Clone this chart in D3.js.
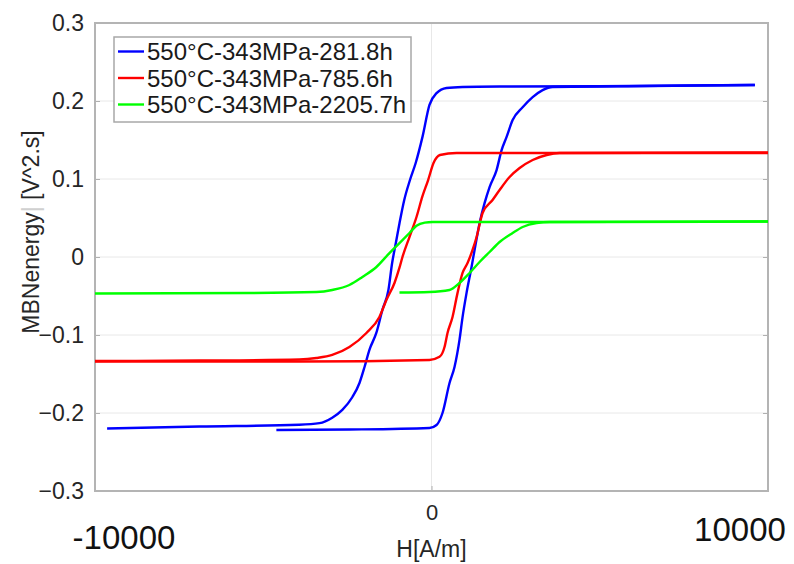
<!DOCTYPE html>
<html>
<head>
<meta charset="utf-8">
<script src="https://cdn.jsdelivr.net/npm/d3@7"></script>
<style>
  body { margin: 0; background: #fff; }
  svg { font-family: "Liberation Sans", Arial, sans-serif; }
</style>
</head>
<body>
<div id="chart"></div>
<script>
/***** Data *****/
var seriesNames = ["550°C-343MPa-281.8h", "550°C-343MPa-785.6h", "550°C-343MPa-2205.7h"];
var seriesColors = ["#0000ff", "#ff0000", "#00ff00"];
var yTicks = [-0.3, -0.2, -0.1, 0, 0.1, 0.2, 0.3];
var xTicks = [0];

// each branch: [H, energy], sorted by H
var blueUpper = [
  [-9640, -0.2199], [-6900, -0.2173], [-3930, -0.215], [-3330, -0.213], [-2950, -0.206],
  [-2650, -0.196], [-2350, -0.1795], [-2140, -0.1615], [-1990, -0.141], [-1845, -0.119],
  [-1640, -0.0974], [-1460, -0.068], [-1280, -0.0423], [-1170, -0.0077], [-1060, 0.0179],
  [-950, 0.0436], [-810, 0.0731], [-640, 0.0987], [-470, 0.1205], [-268, 0.154],
  [-60, 0.195], [150, 0.210], [446, 0.2167], [923, 0.218], [2024, 0.2186],
  [5000, 0.219], [9610, 0.2205]
];
var blueLower = [
  [-4610, -0.2218], [-2440, -0.2212], [-60, -0.2192], [150, -0.2154], [327, -0.200],
  [536, -0.1615], [684, -0.141], [833, -0.106], [923, -0.077], [1042, -0.046],
  [1190, -0.0128], [1280, 0.009], [1430, 0.0436], [1577, 0.069], [1726, 0.0897],
  [1934, 0.1115], [2083, 0.137], [2232, 0.154], [2411, 0.1756], [2708, 0.192],
  [3006, 0.205], [3303, 0.214], [3600, 0.218], [6490, 0.2192], [9610, 0.2205]
];
var redUpper = [
  [-10000, -0.1333], [-6900, -0.1327], [-3930, -0.1314], [-3420, -0.1295], [-2950, -0.1256],
  [-2440, -0.1154], [-1934, -0.0974], [-1548, -0.0769], [-1340, -0.0551], [-1100, -0.0333],
  [-952, -0.0137], [-863, 0.0], [-655, 0.0256], [-446, 0.0513], [-268, 0.078],
  [-100, 0.0987], [60, 0.1205], [250, 0.1308], [744, 0.1333], [5000, 0.1333],
  [10000, 0.1333]
];
var redLower = [
  [-10000, -0.134], [-3930, -0.134], [-60, -0.132], [238, -0.128], [387, -0.1154],
  [476, -0.0974], [625, -0.077], [774, -0.046], [923, -0.0205], [1071, -0.0077],
  [1220, 0.009], [1340, 0.0256], [1518, 0.0564], [1815, 0.0731], [2024, 0.0859],
  [2321, 0.1026], [2619, 0.1141], [3006, 0.1244], [3423, 0.1308], [3810, 0.1333],
  [10000, 0.134]
];
var greenUpper = [
  [-10000, -0.0468], [-5420, -0.0462], [-3420, -0.0449], [-2950, -0.0423], [-2440, -0.0359],
  [-2054, -0.0256], [-1637, -0.0128], [-1250, 0.005], [-952, 0.0179], [-655, 0.0308],
  [-446, 0.040], [-200, 0.0440], [30, 0.0449], [5000, 0.0449], [10000, 0.0455]
];
var greenLower = [
  [-952, -0.0455], [-60, -0.0449], [536, -0.0423], [833, -0.0333], [1131, -0.0205],
  [1429, -0.0064], [1726, 0.0064], [2024, 0.0192], [2411, 0.0308], [2708, 0.0385],
  [3125, 0.0436], [3512, 0.0449], [10000, 0.0455]
];
var branches = [[blueUpper, blueLower], [redUpper, redLower], [greenUpper, greenLower]];

/***** Chart *****/
var W = 794, H = 564;
var svg = d3.select("#chart").append("svg")
  .attr("width", W)
  .attr("height", H);

var x = d3.scaleLinear().domain([-10000, 10000]).range([95, 768]);
var y = d3.scaleLinear().domain([-0.3, 0.3]).range([491, 23]);

// grid
svg.append("g").selectAll("line.gy")
  .data(yTicks.slice(1, -1))
  .enter().append("line")
  .attr("x1", x(-10000)).attr("x2", x(10000))
  .attr("y1", d => y(d)).attr("y2", d => y(d))
  .attr("stroke", "#e8e8e8").attr("stroke-width", 1);
svg.append("g").selectAll("line.gx")
  .data(xTicks)
  .enter().append("line")
  .attr("x1", d => x(d)).attr("x2", d => x(d))
  .attr("y1", y(0.3)).attr("y2", y(-0.3))
  .attr("stroke", "#e8e8e8").attr("stroke-width", 1);

// axes
var yAxis = svg.append("g")
  .attr("transform", "translate(" + x(-10000) + ",0)")
  .call(d3.axisLeft(y).tickValues(yTicks).tickSize(-5).tickPadding(11).tickFormat(d3.format("")));
yAxis.select(".domain").remove();
yAxis.selectAll("line").attr("stroke", "#b0b0b0");
yAxis.selectAll("text").style("font-size", "23px").attr("fill", "#262626");

var yAxisR = svg.append("g")
  .attr("transform", "translate(" + x(10000) + ",0)")
  .call(d3.axisRight(y).tickValues(yTicks).tickSize(-5).tickFormat(""));
yAxisR.select(".domain").remove();
yAxisR.selectAll("line").attr("stroke", "#b0b0b0");

var xAxis = svg.append("g")
  .attr("transform", "translate(0," + y(-0.3) + ")")
  .call(d3.axisBottom(x).tickValues(xTicks).tickSize(-5).tickPadding(13));
xAxis.select(".domain").remove();
xAxis.selectAll("line").attr("stroke", "#b0b0b0");
xAxis.selectAll("text").style("font-size", "22px").attr("fill", "#262626");

// plot box
svg.append("rect")
  .attr("x", x(-10000)).attr("y", y(0.3))
  .attr("width", x(10000) - x(-10000))
  .attr("height", y(-0.3) - y(0.3))
  .attr("fill", "none")
  .attr("stroke", "#b4b4b4")
  .attr("stroke-width", 2);

// curves
var line = d3.line()
  .x(d => x(d[0]))
  .y(d => y(d[1]))
  .curve(d3.curveMonotoneX);

branches.forEach(function(pair, i) {
  pair.forEach(function(b) {
    svg.append("path")
      .datum(b)
      .attr("d", line)
      .attr("fill", "none")
      .attr("stroke", seriesColors[i])
      .attr("stroke-width", 2.4)
      .attr("stroke-linejoin", "round");
  });
});

// legend
var legend = svg.append("g").attr("transform", "translate(114,37)");
legend.append("rect")
  .attr("width", 297).attr("height", 85)
  .attr("fill", "#fff")
  .attr("stroke", "#a8a8a8")
  .attr("stroke-width", 1.5);
seriesNames.forEach(function(name, i) {
  var ly = 14.5 + i * 26.5;
  legend.append("line")
    .attr("x1", 4).attr("x2", 30)
    .attr("y1", ly).attr("y2", ly)
    .attr("stroke", seriesColors[i])
    .attr("stroke-width", 2.4);
  legend.append("text")
    .attr("x", 33).attr("y", ly)
    .attr("dy", "0.36em")
    .attr("font-size", 24)
    .attr("fill", "#1a1a1a")
    .text(name);
});

// axis labels
var yl = svg.append("text")
  .attr("transform", "translate(39,232) rotate(-90)")
  .attr("text-anchor", "middle")
  .attr("font-size", 23)
  .attr("fill", "#262626");
yl.append("tspan").text("MBNenergy");
yl.append("tspan").attr("fill", "#d0d0d0").text("| ");
yl.append("tspan").text("[V^2.s]");

svg.append("text")
  .attr("x", x(0)).attr("y", 557)
  .attr("text-anchor", "middle")
  .attr("font-size", 23)
  .attr("fill", "#262626")
  .text("H[A/m]");

// large end labels of the H axis
svg.append("text")
  .attr("x", x(-10000) + 29).attr("y", 549)
  .attr("text-anchor", "middle")
  .attr("font-size", 33)
  .attr("fill", "#111")
  .text("-10000");
svg.append("text")
  .attr("x", x(10000) - 28).attr("y", 541)
  .attr("text-anchor", "middle")
  .attr("font-size", 33)
  .attr("fill", "#111")
  .text("10000");
</script>
</body>
</html>
